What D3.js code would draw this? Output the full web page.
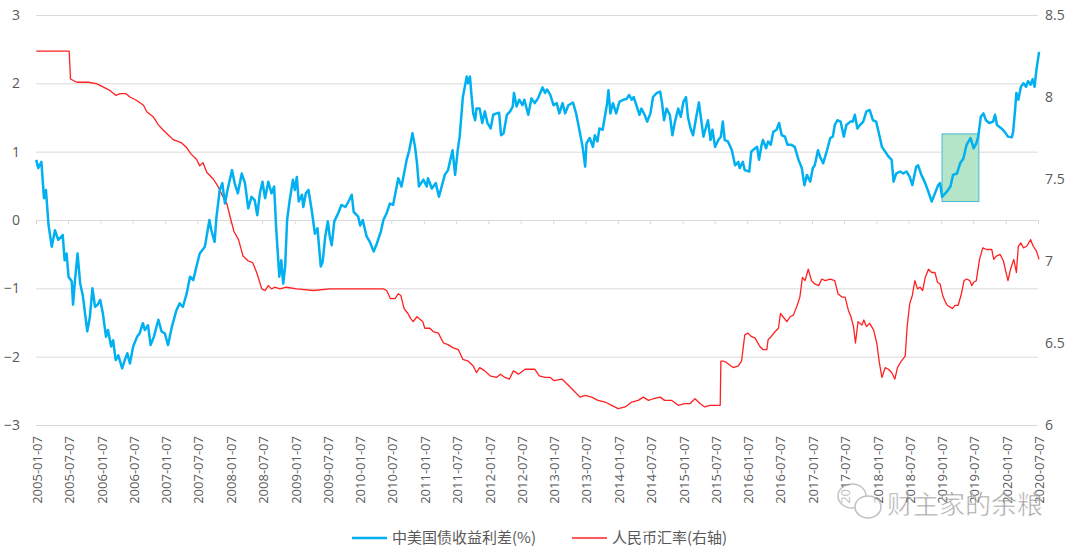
<!DOCTYPE html>
<html><head><meta charset="utf-8">
<script src="https://cdn.jsdelivr.net/npm/d3@7"></script>
<style>body{margin:0;background:#fff}svg{display:block}</style>
</head><body>
<svg id="chart" width="1080" height="552"></svg>
<script>
// ---------- data ----------
const tickLabels = ["2005-01-07","2005-07-07","2006-01-07","2006-07-07","2007-01-07","2007-07-07","2008-01-07","2008-07-07",
"2009-01-07","2009-07-07","2010-01-07","2010-07-07","2011-01-07","2011-07-07","2012-01-07","2012-07-07",
"2013-01-07","2013-07-07","2014-01-07","2014-07-07","2015-01-07","2015-07-07","2016-01-07","2016-07-07",
"2017-01-07","2017-07-07","2018-01-07","2018-07-07","2019-01-07","2019-07-07","2020-01-07","2020-07-07"];
const leftTicks = [3,2,1,0,-1,-2,-3];
const rightTicks = [8.5,8,7.5,7,6.5,6];
const seriesNames = ["中美国债收益利差(%)","人民币汇率(右轴)"];

// spread (decimal year, %)
const spreadT = [
2005.02,2005.05,2005.10,2005.14,2005.17,2005.21,2005.26,2005.31,2005.36,2005.43,
2005.46,2005.49,2005.52,2005.57,2005.59,2005.62,2005.66,2005.70,2005.74,2005.81,
2005.85,2005.89,2005.93,2005.97,2006.01,2006.05,2006.10,2006.13,2006.18,2006.21,
2006.25,2006.29,2006.35,2006.39,2006.43,2006.47,2006.52,2006.58,2006.62,2006.67,
2006.70,2006.75,2006.79,2006.84,2006.91,2006.96,2007.01,2007.06,2007.12,2007.19,
2007.24,2007.29,2007.35,2007.40,2007.45,2007.50,2007.55,2007.63,2007.70,2007.73,
2007.78,2007.81,2007.86,2007.90,2007.94,2007.98,2008.05,2008.09,2008.14,2008.20,
2008.25,2008.30,2008.35,2008.40,2008.44,2008.48,2008.52,2008.56,2008.61,2008.66,
2008.70,2008.73,2008.78,2008.81,2008.84,2008.87,2008.90,2008.94,2008.99,2009.02,
2009.05,2009.08,2009.13,2009.15,2009.19,2009.23,2009.28,2009.33,2009.37,2009.42,
2009.45,2009.49,2009.53,2009.56,2009.59,2009.63,2009.69,2009.74,2009.80,2009.85,
2009.90,2009.93,2010.00,2010.03,2010.07,2010.13,2010.18,2010.24,2010.29,2010.35,
2010.39,2010.44,2010.49,2010.54,2010.62,2010.67,2010.75,2010.79,2010.84,2010.88,
2010.91,2010.94,2011.01,2011.06,2011.08,2011.14,2011.20,2011.25,2011.34,2011.39,
2011.46,2011.50,2011.54,2011.57,2011.62,2011.65,2011.68,2011.70,2011.73,2011.75,
2011.78,2011.81,2011.83,2011.88,2011.92,2011.96,2012.00,2012.05,2012.09,2012.14,
2012.18,2012.21,2012.25,2012.30,2012.35,2012.39,2012.41,2012.45,2012.49,2012.54,
2012.57,2012.63,2012.68,2012.73,2012.78,2012.85,2012.89,2012.92,2012.97,2013.02,
2013.07,2013.11,2013.16,2013.20,2013.25,2013.32,2013.37,2013.42,2013.47,2013.51,
2013.53,2013.58,2013.63,2013.66,2013.70,2013.73,2013.78,2013.82,2013.85,2013.87,
2013.90,2013.94,2013.99,2014.04,2014.10,2014.15,2014.19,2014.23,2014.26,2014.31,
2014.35,2014.38,2014.43,2014.47,2014.52,2014.56,2014.62,2014.67,2014.70,2014.73,
2014.77,2014.82,2014.86,2014.90,2014.95,2014.99,2015.03,2015.07,2015.10,2015.14,
2015.18,2015.23,2015.27,2015.34,2015.41,2015.45,2015.48,2015.52,2015.57,2015.61,
2015.64,2015.67,2015.72,2015.78,2015.83,2015.88,2015.90,2015.95,2015.98,2016.05,
2016.08,2016.14,2016.17,2016.20,2016.24,2016.26,2016.31,2016.34,2016.38,2016.42,
2016.47,2016.51,2016.55,2016.60,2016.64,2016.70,2016.75,2016.81,2016.86,2016.90,
2016.94,2016.99,2017.03,2017.06,2017.11,2017.14,2017.19,2017.25,2017.30,2017.34,
2017.37,2017.41,2017.46,2017.51,2017.55,2017.61,2017.65,2017.68,2017.72,2017.76,
2017.81,2017.86,2017.91,2017.96,2018.01,2018.04,2018.10,2018.15,2018.20,2018.25,
2018.28,2018.32,2018.38,2018.43,2018.48,2018.53,2018.57,2018.63,2018.66,2018.71,
2018.77,2018.82,2018.87,2018.92,2018.97,2019.00,2019.03,2019.10,2019.16,2019.20,
2019.26,2019.31,2019.36,2019.41,2019.47,2019.52,2019.56,2019.59,2019.63,2019.67,
2019.71,2019.76,2019.82,2019.85,2019.88,2019.95,2020.00,2020.05,2020.11,2020.13,
2020.16,2020.18,2020.21,2020.25,2020.29,2020.33,2020.36,2020.40,2020.43,2020.46,2020.49,2020.53];
const spreadV = [
0.88,0.76,0.85,0.32,0.44,-0.07,-0.39,-0.15,-0.29,-0.22,
-0.59,-0.49,-0.83,-0.90,-1.24,-0.88,-0.49,-0.93,-1.10,-1.63,
-1.42,-1.00,-1.27,-1.24,-1.17,-1.36,-1.71,-1.61,-1.85,-1.76,
-2.05,-1.98,-2.17,-2.05,-1.95,-2.10,-1.85,-1.71,-1.66,-1.51,
-1.61,-1.54,-1.83,-1.71,-1.46,-1.63,-1.66,-1.83,-1.56,-1.32,
-1.22,-1.27,-1.07,-0.83,-0.88,-0.68,-0.49,-0.39,0.00,-0.15,
-0.32,0.05,0.44,0.54,0.24,0.44,0.73,0.54,0.39,0.68,
0.54,0.17,0.34,0.29,0.07,0.39,0.56,0.32,0.56,0.39,
0.49,-0.10,-0.83,-0.59,-0.93,-0.68,0.00,0.29,0.59,0.44,
0.63,0.27,0.37,0.19,0.39,0.44,0.15,-0.20,-0.12,-0.68,
-0.61,-0.24,-0.02,-0.24,-0.37,-0.02,0.10,0.22,0.19,0.27,
0.37,0.12,0.05,-0.08,0.00,-0.24,-0.32,-0.46,-0.34,-0.17,
0.00,0.10,0.24,0.22,0.61,0.49,0.88,1.02,1.27,1.07,
0.83,0.49,0.59,0.49,0.61,0.46,0.54,0.34,0.66,0.73,
1.02,0.66,1.02,1.22,1.80,1.95,2.10,2.00,2.10,1.86,
1.56,1.46,1.63,1.63,1.42,1.59,1.42,1.34,1.54,1.56,
1.57,1.24,1.27,1.54,1.59,1.66,1.86,1.66,1.76,1.68,
1.76,1.54,1.78,1.71,1.78,1.94,1.86,1.91,1.83,1.68,
1.71,1.56,1.71,1.56,1.68,1.72,1.56,1.32,1.07,0.78,
1.12,1.20,1.07,1.24,1.15,1.34,1.32,1.54,1.71,1.90,
1.56,1.71,1.56,1.73,1.76,1.77,1.83,1.76,1.80,1.66,
1.54,1.63,1.54,1.44,1.56,1.80,1.86,1.88,1.71,1.46,
1.63,1.54,1.24,1.44,1.63,1.51,1.73,1.80,1.51,1.34,
1.24,1.51,1.72,1.22,1.46,1.17,1.32,1.07,1.17,1.22,
1.44,1.17,1.15,1.02,0.80,0.85,0.76,0.85,0.73,0.71,
1.00,1.05,1.07,0.88,1.10,1.17,1.05,1.15,1.10,1.29,
1.32,1.42,1.24,1.22,1.10,1.10,1.07,0.88,0.76,0.51,
0.66,0.56,0.76,0.80,1.02,0.93,0.83,1.02,1.20,1.22,
1.39,1.46,1.44,1.22,1.39,1.44,1.44,1.54,1.34,1.39,
1.44,1.59,1.61,1.46,1.44,1.32,1.07,1.00,0.93,0.88,
0.56,0.68,0.71,0.68,0.71,0.63,0.51,0.78,0.80,0.66,
0.54,0.41,0.27,0.39,0.51,0.54,0.34,0.41,0.49,0.66,
0.68,0.83,0.90,1.10,1.20,1.05,1.12,1.22,1.51,1.56,
1.46,1.42,1.44,1.54,1.39,1.34,1.29,1.22,1.21,1.29,
1.61,1.86,1.76,1.95,2.00,1.95,2.03,1.98,2.06,1.95,2.20,2.46];

// CNY exchange rate (decimal year, right axis)
const fxT = [
2005.02,2005.53,2005.55,2005.65,2005.83,2005.96,2006.06,2006.16,2006.25,2006.32,
2006.41,2006.47,2006.57,2006.68,2006.73,2006.83,2006.91,2006.98,2007.06,2007.14,
2007.27,2007.35,2007.42,2007.50,2007.55,2007.60,2007.66,2007.76,2007.84,2007.90,
2007.97,2008.02,2008.08,2008.15,2008.22,2008.30,2008.37,2008.43,2008.51,2008.56,
2008.61,2008.66,2008.71,2008.79,2008.89,2009.05,2009.31,2009.56,2010.03,2010.39,
2010.44,2010.50,2010.57,2010.62,2010.66,2010.71,2010.77,2010.81,2010.85,2010.91,
2011.00,2011.03,2011.11,2011.16,2011.24,2011.32,2011.39,2011.47,2011.55,2011.62,
2011.70,2011.78,2011.83,2011.88,2011.96,2012.04,2012.14,2012.20,2012.27,2012.34,
2012.40,2012.48,2012.58,2012.66,2012.73,2012.80,2012.89,2012.97,2013.03,2013.15,
2013.23,2013.33,2013.43,2013.51,2013.61,2013.71,2013.82,2013.92,2014.02,2014.13,
2014.23,2014.33,2014.41,2014.49,2014.56,2014.67,2014.74,2014.85,2014.95,2015.05,
2015.13,2015.21,2015.29,2015.36,2015.44,2015.60,2015.61,2015.65,2015.70,2015.80,
2015.88,2015.93,2015.98,2016.03,2016.08,2016.14,2016.21,2016.26,2016.32,2016.34,
2016.39,2016.45,2016.50,2016.53,2016.57,2016.63,2016.68,2016.73,2016.79,2016.83,
2016.87,2016.91,2016.96,2017.01,2017.06,2017.12,2017.17,2017.22,2017.30,2017.37,
2017.42,2017.48,2017.53,2017.58,2017.62,2017.66,2017.69,2017.73,2017.79,2017.82,
2017.86,2017.91,2017.97,2018.02,2018.06,2018.10,2018.15,2018.20,2018.25,2018.30,
2018.34,2018.40,2018.46,2018.49,2018.53,2018.57,2018.61,2018.65,2018.69,2018.73,
2018.77,2018.82,2018.87,2018.92,2018.96,2019.00,2019.04,2019.07,2019.11,2019.15,
2019.19,2019.23,2019.28,2019.33,2019.37,2019.41,2019.46,2019.49,2019.52,2019.56,
2019.61,2019.66,2019.72,2019.80,2019.83,2019.87,2019.93,2019.98,2020.02,2020.05,
2020.09,2020.14,2020.18,2020.21,2020.25,2020.29,2020.34,2020.40,2020.44,2020.49,2020.53];
const fxV = [
8.28,8.28,8.11,8.09,8.09,8.08,8.06,8.04,8.01,8.02,
8.02,8.00,7.98,7.95,7.91,7.88,7.83,7.80,7.77,7.74,
7.72,7.69,7.65,7.62,7.58,7.60,7.54,7.50,7.45,7.40,
7.35,7.27,7.18,7.13,7.03,7.00,6.99,6.93,6.83,6.82,
6.85,6.83,6.84,6.83,6.84,6.83,6.82,6.83,6.83,6.83,
6.82,6.77,6.77,6.80,6.79,6.71,6.68,6.65,6.63,6.66,
6.63,6.59,6.59,6.57,6.56,6.50,6.49,6.47,6.46,6.40,
6.39,6.36,6.32,6.35,6.33,6.30,6.29,6.31,6.29,6.28,
6.33,6.31,6.34,6.34,6.34,6.30,6.29,6.29,6.27,6.28,
6.25,6.21,6.17,6.18,6.17,6.15,6.14,6.12,6.10,6.11,
6.14,6.15,6.17,6.15,6.16,6.17,6.15,6.15,6.12,6.13,
6.13,6.16,6.13,6.11,6.12,6.12,6.39,6.39,6.38,6.35,
6.36,6.39,6.55,6.56,6.54,6.53,6.48,6.46,6.46,6.52,
6.54,6.57,6.59,6.68,6.66,6.63,6.66,6.67,6.73,6.78,
6.90,6.88,6.95,6.88,6.86,6.85,6.89,6.88,6.89,6.88,
6.80,6.78,6.78,6.70,6.66,6.60,6.50,6.63,6.61,6.64,
6.60,6.62,6.58,6.50,6.38,6.29,6.35,6.34,6.32,6.28,
6.35,6.39,6.42,6.60,6.74,6.79,6.88,6.83,6.84,6.82,
6.90,6.95,6.93,6.93,6.87,6.86,6.79,6.76,6.73,6.72,
6.71,6.73,6.73,6.80,6.88,6.89,6.88,6.85,6.87,6.88,
7.01,7.08,7.07,7.07,7.01,7.03,7.04,7.00,6.93,6.88,
6.95,7.01,6.93,7.09,7.11,7.08,7.09,7.13,7.09,7.06,7.01];

// highlighted window (data units)
const highlightT = [2019.03, 2019.60];
const highlightV = [0.27, 1.26];

// ---------- chart ----------
const W = 1080, H = 552;
const plot = {left: 36, right: 1038, top: 15, bottom: 425};
const svg = d3.select("#chart");
const numFont = "'Open Sans','Noto Sans CJK SC',sans-serif";
const cjkFont = "'Noto Sans CJK SC','Noto Sans',sans-serif";
const gridColor = "#d9d9d9", textColor = "#595959";
const blue = "#00b0f0", red = "#ff2020";

const parse = d3.utcParse("%Y-%m-%d");
function yearToDate(y) {
  const yr = Math.floor(y);
  const a = Date.UTC(yr, 0, 1), b = Date.UTC(yr + 1, 0, 1);
  return new Date(a + (y - yr) * (b - a));
}
const tickDates = tickLabels.map(parse);

const x = d3.scaleUtc().domain([tickDates[0], tickDates[tickDates.length - 1]]).range([plot.left, plot.right]);
const yL = d3.scaleLinear().domain([-3, 3]).range([plot.bottom, plot.top]);
const yR = d3.scaleLinear().domain([6, 8.5]).range([plot.bottom, plot.top]);

// gridlines
const grid = svg.append("g").attr("transform", `translate(${plot.left},0)`)
  .call(d3.axisLeft(yL).tickValues(leftTicks).tickSize(-(plot.right - plot.left)).tickFormat(""));
grid.select(".domain").remove();
grid.selectAll("line").attr("stroke", gridColor).attr("stroke-width", 1);

// left axis labels
const la = svg.append("g").attr("transform", `translate(${plot.left - 16},0)`)
  .call(d3.axisLeft(yL).tickValues(leftTicks).tickSize(0).tickPadding(0).tickFormat(d3.format("d")));
la.select(".domain").remove();
la.selectAll("text").attr("font-family", numFont).attr("font-size", 14).attr("fill", textColor)
  .attr("text-anchor", "end");

// right axis labels
const ra = svg.append("g").attr("transform", `translate(${plot.right + 7},0)`)
  .call(d3.axisRight(yR).tickValues(rightTicks).tickSize(0).tickPadding(0).tickFormat(d => String(d)));
ra.select(".domain").remove();
ra.selectAll("text").attr("font-family", numFont).attr("font-size", 14).attr("fill", textColor);

// x axis line at zero with ticks
const xa = svg.append("g").attr("transform", `translate(0,${yL(0)})`)
  .call(d3.axisBottom(x).tickValues(tickDates).tickSize(4).tickFormat(""));
xa.select(".domain").attr("stroke", gridColor).attr("d", `M${plot.left},0.5H${plot.right}`);
xa.selectAll("line").attr("stroke", gridColor);

// x labels at bottom, rotated
const xl = svg.append("g").attr("transform", `translate(0,${plot.bottom})`)
  .call(d3.axisBottom(x).tickValues(tickDates).tickSize(0).tickFormat((d, i) => tickLabels[i]));
xl.select(".domain").remove();
xl.selectAll("text")
  .attr("font-family", numFont).attr("font-size", 13).attr("fill", textColor)
  .attr("text-anchor", "end")
  .attr("transform", "translate(1,11) rotate(-90)")
  .attr("x", 0).attr("y", 0).attr("dy", "0.35em");

// highlight box
svg.append("rect")
  .attr("x", x(yearToDate(highlightT[0])))
  .attr("y", yL(highlightV[1]))
  .attr("width", x(yearToDate(highlightT[1])) - x(yearToDate(highlightT[0])))
  .attr("height", yL(highlightV[0]) - yL(highlightV[1]))
  .attr("fill", "#b4e5c9").attr("stroke", "#45b9d2").attr("stroke-width", 1);

// lines
const fxData = fxT.map((t, i) => ({d: yearToDate(t), v: fxV[i]}));
const spreadData = spreadT.map((t, i) => ({d: yearToDate(t), v: spreadV[i]}));

svg.append("path").datum(fxData)
  .attr("fill", "none").attr("stroke", red).attr("stroke-width", 1.3).attr("stroke-linejoin", "round")
  .attr("d", d3.line().x(p => x(p.d)).y(p => yR(p.v)));

svg.append("path").datum(spreadData)
  .attr("fill", "none").attr("stroke", blue).attr("stroke-width", 2.5).attr("stroke-linejoin", "round")
  .attr("d", d3.line().x(p => x(p.d)).y(p => yL(p.v)));

// legend
const legend = svg.append("g").attr("transform", "translate(0,538)");
const legItems = [
  {name: seriesNames[0], color: blue, w: 2.5, x0: 352},
  {name: seriesNames[1], color: red, w: 1.3, x0: 572}
];
legItems.forEach(it => {
  legend.append("line").attr("x1", it.x0).attr("x2", it.x0 + 35).attr("y1", 0).attr("y2", 0)
    .attr("stroke", it.color).attr("stroke-width", it.w);
  legend.append("text").attr("x", it.x0 + 40).attr("y", 0).attr("dy", "0.35em")
    .attr("font-family", cjkFont).attr("font-size", 15).attr("fill", textColor).text(it.name);
});

// watermark
const wm = svg.append("g").attr("opacity", 0.6);
wm.append("ellipse").attr("cx", 852).attr("cy", 496).attr("rx", 14).attr("ry", 12)
  .attr("fill", "#fff").attr("stroke", "#999").attr("stroke-width", 1.5);
wm.append("ellipse").attr("cx", 868).attr("cy", 507).attr("rx", 13).attr("ry", 11)
  .attr("fill", "#fff").attr("stroke", "#999").attr("stroke-width", 1.5);
wm.append("text").attr("x", 887).attr("y", 514)
  .attr("font-family", cjkFont).attr("font-size", 26).attr("fill", "#666")
  .attr("stroke", "#fff").attr("stroke-width", 0.6).text("财主家的余粮");
</script>
</body></html>
